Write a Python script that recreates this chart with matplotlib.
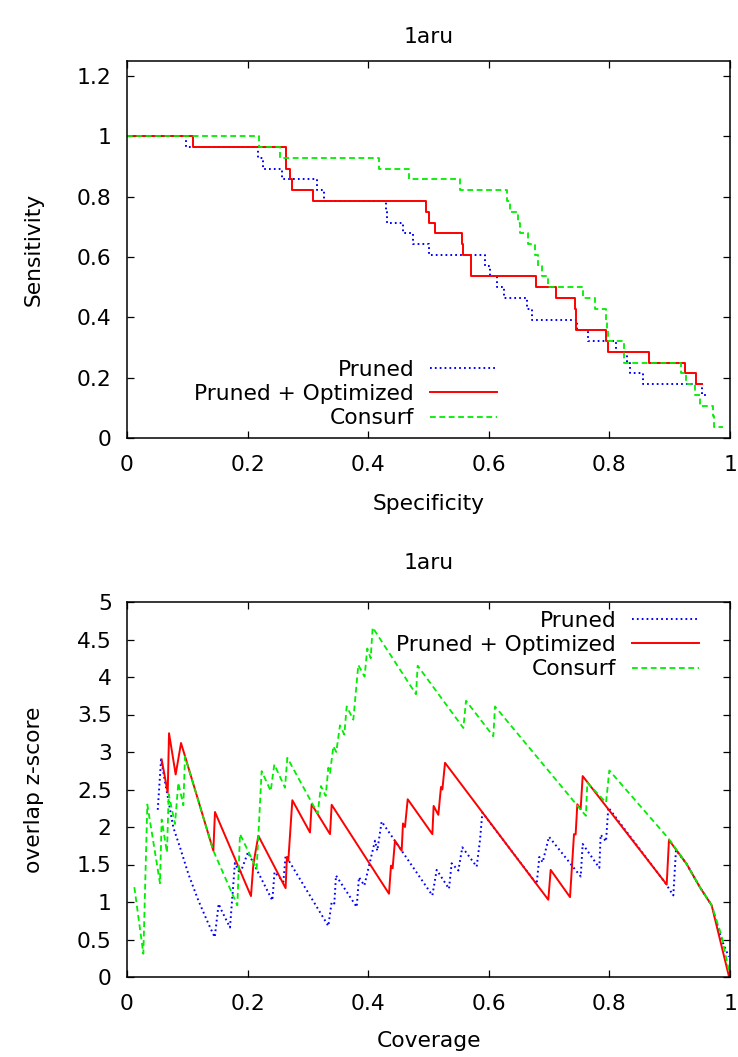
import numpy as np
import matplotlib
matplotlib.use("Agg")
from matplotlib import pyplot as plt

# ---- top panel: sensitivity vs specificity (levels are k/28 positives) ----
N_POS = 28

pruned_spec = [0, 0.098, 0.217, 0.226, 0.257, 0.315, 0.327, 0.429, 0.431, 0.457,
               0.474, 0.500, 0.594, 0.602, 0.613, 0.626, 0.663, 0.672, 0.746,
               0.765, 0.811, 0.830, 0.834, 0.856, 0.953, 0.965]
pruned_k = [28, 27, 26, 25, 24, 23, 22, 21, 20, 19,
            18, 17, 16, 15, 14, 13, 12, 11, 10,
            9, 8, 7, 6, 5, 4, 4]

opt_spec = [0, 0.110, 0.263, 0.264, 0.270, 0.273, 0.308, 0.496, 0.500, 0.510,
            0.555, 0.558, 0.5705, 0.5713, 0.678, 0.711, 0.743, 0.744, 0.745,
            0.794, 0.797, 0.866, 0.925, 0.944, 0.953]
opt_k = [28, 27, 26, 25, 24, 23, 22, 21, 20, 19,
         18, 17, 16, 15, 14, 13, 12, 11, 10,
         9, 8, 7, 6, 5, 5]

consurf_spec = [0, 0.219, 0.254, 0.418, 0.467, 0.552, 0.630, 0.635, 0.649, 0.651,
                0.6655, 0.676, 0.682, 0.689, 0.698, 0.756, 0.776, 0.795, 0.796,
                0.797, 0.824, 0.825, 0.919, 0.927, 0.942, 0.950, 0.972, 0.973, 0.989]
consurf_k = [28, 27, 26, 25, 24, 23, 22, 21, 20, 19,
             18, 17, 16, 15, 14, 13, 12, 11, 10,
             9, 8, 7, 6, 5, 4, 3, 2, 1, 1]

# ---- bottom panel: overlap z-score vs coverage ----
pruned_cov = [0.051, 0.0565, 0.0658, 0.0768, 0.0879, 0.1017, 0.1183, 0.1349, 0.1455,
              0.1520, 0.1560, 0.1708, 0.1790, 0.1874, 0.2006, 0.2410, 0.2447, 0.2593,
              0.2631, 0.3339, 0.3394, 0.3438, 0.3466, 0.3809, 0.3847, 0.3936, 0.4113,
              0.4151, 0.4223, 0.5064, 0.5136, 0.5340, 0.5384, 0.5495, 0.5561, 0.5799,
              0.5854, 0.5893, 0.6794, 0.6838, 0.6893, 0.6998, 0.7524, 0.7557, 0.7833,
              0.7855, 0.7944, 0.7982, 0.8930, 0.9060, 0.9104, 0.928, 0.950, 0.9696,
              0.986, 0.998]
pruned_z = [2.23, 2.90, 2.48, 1.994, 1.729, 1.375, 1.021, 0.712, 0.53,
            0.975, 0.90, 0.66, 1.52, 1.375, 1.662, 1.021, 1.40, 1.27,
            1.62, 0.68, 1.00, 0.98, 1.353, 0.933, 1.33, 1.22, 1.817,
            1.684, 2.073, 1.088, 1.428, 1.176, 1.516, 1.42, 1.729, 1.472,
            1.826, 2.193, 1.24, 1.60, 1.53, 1.870, 1.340, 1.773, 1.455,
            1.897, 1.808, 2.26, 1.25, 1.088, 1.693, 1.508, 1.198, 0.955,
            0.50, 0.27]

opt_cov = [0.0575, 0.0675, 0.0697, 0.0807, 0.0896, 0.1432, 0.1459, 0.2056, 0.2095,
           0.2178, 0.2630, 0.2652, 0.2675, 0.2742, 0.3035, 0.3062, 0.3367, 0.3394,
           0.4345, 0.4378, 0.4405, 0.4444, 0.4555, 0.4577, 0.4610, 0.4655, 0.5064,
           0.5085, 0.5163, 0.5207, 0.5230, 0.5274, 0.6987, 0.7026, 0.7347, 0.7413,
           0.7440, 0.7468, 0.7523, 0.7557, 0.895, 0.8988, 0.928, 0.950, 0.9696, 0.9985]
opt_z = [2.90, 2.46, 3.25, 2.70, 3.12, 1.684, 2.20, 1.079, 1.50,
         1.883, 1.185, 1.60, 1.55, 2.357, 1.927, 2.303, 1.905, 2.296,
         1.110, 1.485, 1.45, 1.817, 1.684, 2.047, 2.0, 2.370, 1.905,
         2.281, 2.162, 2.533, 2.50, 2.856, 1.030, 1.428, 1.065, 1.905,
         1.90, 2.303, 2.237, 2.679, 1.233, 1.826, 1.508, 1.198, 0.955, 0.0]

consurf_cov = [0.0122, 0.0271, 0.0337, 0.0547, 0.0575, 0.0663, 0.0691, 0.0796, 0.0851,
               0.0934, 0.0962, 0.1432, 0.1830, 0.1874, 0.2150, 0.2233, 0.2383, 0.2443,
               0.2620, 0.2659, 0.3162, 0.3217, 0.3295, 0.3339, 0.3367, 0.3422, 0.3470,
               0.3532, 0.3604, 0.3643, 0.3753, 0.3836, 0.394, 0.3985, 0.4041, 0.4074,
               0.4793, 0.4820, 0.5578, 0.5622, 0.6075, 0.6103, 0.7610, 0.7634, 0.7944,
               0.7999, 0.8977, 0.928, 0.950, 0.9696, 0.986, 0.999]
consurf_z = [1.198, 0.31, 2.30, 1.25, 2.10, 1.66, 2.44, 2.04, 2.59,
             2.29, 2.94, 1.684, 0.955, 1.906, 1.441, 2.745, 2.48, 2.834,
             2.524, 2.922, 2.18, 2.546, 2.414, 2.79, 2.72, 3.077, 3.0,
             3.355, 3.232, 3.607, 3.431, 4.16, 4.005, 4.38, 4.25, 4.66,
             3.77, 4.15, 3.32, 3.683, 3.21, 3.607, 2.149, 2.591, 2.325,
             2.754, 1.85, 1.508, 1.198, 0.955, 0.55, 0.05]

labels = ["Pruned", "Pruned + Optimized", "Consurf"]
FS = 15.7

plt.rcParams['font.family'] = ['DejaVu Sans']
plt.rcParams['font.size'] = FS

styles = [
    dict(color="#0000ff", lw=1.4, ls=(0, (0.9, 1.6))),
    dict(color="#ff0000", lw=1.4, ls="-"),
    dict(color="#00ee00", lw=1.3, ls=(0, (3.2, 2.0))),
]

fig = plt.figure(figsize=(7.38, 10.57), dpi=100)
W, H = 738, 1057


def make_axes(left, top, right, bottom):
    return fig.add_axes([left / W, 1 - bottom / H, (right - left) / W, (bottom - top) / H])


def style_axes(ax):
    for sp in ax.spines.values():
        sp.set_linewidth(1.1)
    ax.tick_params(direction="in", length=5, width=0.9, top=True, right=True,
                   labelsize=FS)
    ax.tick_params(axis="x", pad=12)
    ax.tick_params(axis="y", pad=11)


def ticklabels(vals):
    return [f"{round(v, 1):g}" for v in vals]


legend_kw = dict(loc="center right", frameon=False, markerfirst=False, borderpad=0,
                 borderaxespad=0, handlelength=3.05, handletextpad=0.75,
                 labelspacing=0.2, fontsize=FS)

# top panel
ax1 = make_axes(127, 61, 730, 438)
for xs, ks, st, lab in zip([pruned_spec, opt_spec, consurf_spec],
                           [pruned_k, opt_k, consurf_k], styles, labels):
    ax1.plot(xs, np.array(ks) / N_POS, drawstyle="steps-post", label=lab, **st)
ax1.set_xlim(0, 1)
ax1.set_ylim(0, 1.25)
xt = np.arange(0, 1.01, 0.2)
yt1 = np.arange(0, 1.21, 0.2)
ax1.set_xticks(xt)
ax1.set_yticks(yt1)
ax1.set_xticklabels(ticklabels(xt))
ax1.set_yticklabels(ticklabels(yt1))
style_axes(ax1)
ax1.set_xlabel("Specificity")
ax1.set_ylabel("Sensitivity")
ax1.xaxis.set_label_coords(0.5, (438 - 494) / 377)
ax1.yaxis.set_label_coords((44 - 127) / 603, 0.5)
ax1.legend(bbox_to_anchor=((497 - 127) / 603, (438 - 394) / 377), **legend_kw)
fig.text((127 + 730) / 2 / W, 1 - 37 / H, "1aru", ha="center", va="center", fontsize=FS)

# bottom panel
ax2 = make_axes(127, 602, 730, 977)
for xs, ys, st, lab in zip([pruned_cov, opt_cov, consurf_cov],
                           [pruned_z, opt_z, consurf_z], styles, labels):
    ax2.plot(xs, ys, label=lab, **st)
ax2.set_xlim(0, 1)
ax2.set_ylim(0, 5)
yt2 = np.arange(0, 5.01, 0.5)
ax2.set_xticks(xt)
ax2.set_yticks(yt2)
ax2.set_xticklabels(ticklabels(xt))
ax2.set_yticklabels(ticklabels(yt2))
style_axes(ax2)
ax2.set_xlabel("Coverage")
ax2.set_ylabel("overlap z-score")
ax2.xaxis.set_label_coords(0.5, (977 - 1031) / 375)
ax2.yaxis.set_label_coords((44 - 127) / 603, 0.5)
ax2.legend(bbox_to_anchor=((699 - 127) / 603, (977 - 645) / 375), **legend_kw)
fig.text((127 + 730) / 2 / W, 1 - 563 / H, "1aru", ha="center", va="center", fontsize=FS)

fig.savefig("out.png", dpi=100)
plt.close(fig)
